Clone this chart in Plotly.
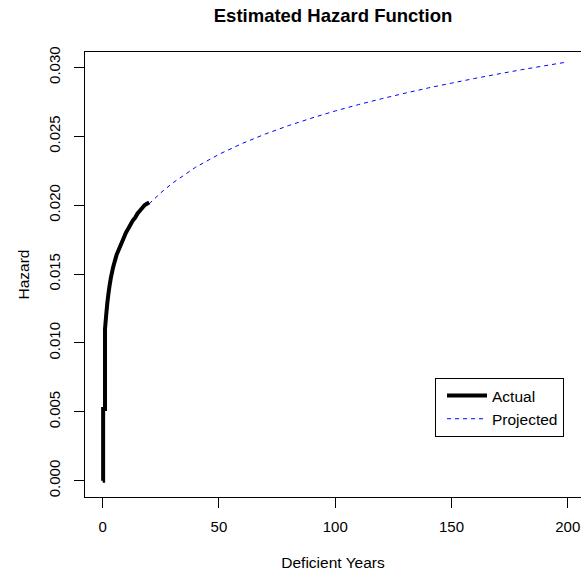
import plotly.graph_objects as go

# ---- data ----
actual_t = [0, 0.2, 0.2, 1.0, 1.0, 1.5, 2.0, 2.5, 3.0, 3.5, 4.0, 4.5, 5.0, 5.5, 6.0, 6.5,
            7.0, 7.5, 8.0, 8.5, 9.0, 9.5, 10.0, 11.0, 12.0, 13.0, 14.0, 15.0, 16.0, 17.0,
            18.0, 19.0, 20.0]
actual_h = [0.0, 0.0, 0.0052, 0.0052, 0.0110, 0.0120, 0.0129, 0.0136, 0.0142, 0.0147,
            0.0151, 0.0155, 0.0158, 0.0161, 0.0164, 0.0166, 0.0168, 0.0170, 0.0172,
            0.0174, 0.0176, 0.0178, 0.0180, 0.0183, 0.0186, 0.0189, 0.0191, 0.0194,
            0.0196, 0.0198, 0.0200, 0.0201, 0.0202]

proj_t = [20, 25, 30, 40, 50, 60, 70, 80, 90, 100, 110, 120, 130, 140, 150,
          160, 170, 180, 190, 200]
proj_h = [0.0201, 0.0209, 0.0216, 0.02276, 0.02369, 0.02448, 0.02517, 0.02578,
          0.02633, 0.02684, 0.0273, 0.02773, 0.02813, 0.02851, 0.02886, 0.0292,
          0.02952, 0.02983, 0.03012, 0.0304]

x_ticks = [0, 50, 100, 150, 200]
y_ticks = [0.000, 0.005, 0.010, 0.015, 0.020, 0.025, 0.030]
y_tick_text = ["0.000", "0.005", "0.010", "0.015", "0.020", "0.025", "0.030"]

FONT = "Liberation Sans, Arial, sans-serif"

fig = go.Figure()
fig.add_trace(go.Scatter(x=proj_t, y=proj_h, mode="lines", name="Projected",
                         line=dict(color="#0000FF", width=1, dash="4px,4px",
                                   simplify=False)))
fig.add_trace(go.Scatter(x=actual_t, y=actual_h, mode="lines", name="Actual",
                         line=dict(color="black", width=4, simplify=False)))

fig.update_layout(
    width=581, height=573,
    margin=dict(l=85, r=0, t=52, b=76),
    paper_bgcolor="white", plot_bgcolor="white",
    font=dict(family=FONT, size=15, color="black"),
    title=dict(text="<b>Estimated Hazard Function</b>", x=0.5, xref="paper",
               y=1 - 16 / 573, yref="container", yanchor="middle",
               font=dict(family=FONT, size=18.5, color="black")),
    showlegend=True,
    legend=dict(x=(435 - 85) / 496, y=(497 - 378) / 445, xanchor="left", yanchor="top",
                bordercolor="black", borderwidth=1, bgcolor="white",
                traceorder="reversed", font=dict(family=FONT, size=15.5),
                tracegroupgap=0, itemwidth=40, indentation=6, entrywidth=124),
)

fig.update_xaxes(range=[-7.6, 205.7], tickvals=x_ticks, ticks="outside", ticklen=10,
                 tickcolor="black", tickwidth=1, showgrid=False, zeroline=False,
                 showline=True, linecolor="black", linewidth=1, mirror=True,
                 ticklabelstandoff=6, tickfont=dict(size=15),
                 title=dict(text="Deficient Years", standoff=23,
                            font=dict(family=FONT, size=15.5)))
fig.update_yaxes(range=[-0.001183, 0.03112], tickvals=y_ticks, ticktext=y_tick_text,
                 tickangle=-90, ticks="outside", ticklen=10, tickcolor="black",
                 tickwidth=1, showgrid=False, zeroline=False, showline=True,
                 linecolor="black", linewidth=1, mirror=False,
                 ticklabelstandoff=8, tickfont=dict(size=15),
                 title=dict(text="Hazard", standoff=12,
                            font=dict(family=FONT, size=15.5)))

fig.write_html("out.html")
